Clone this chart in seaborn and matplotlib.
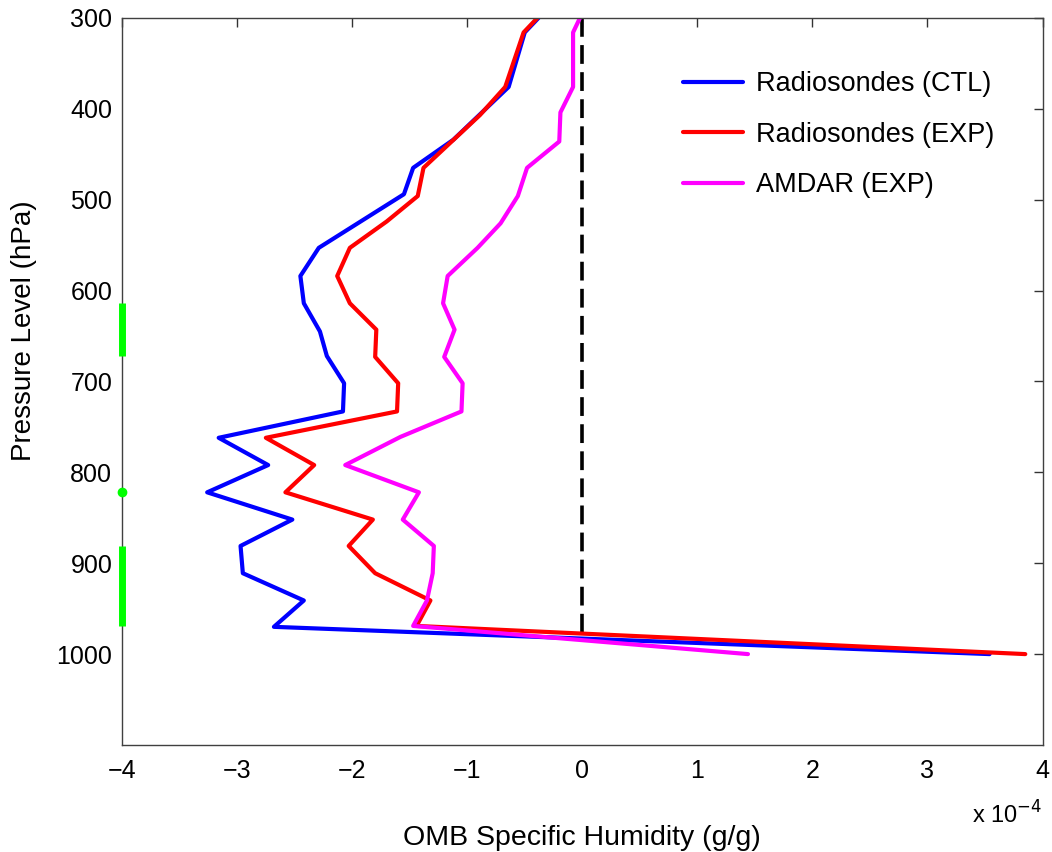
import numpy as np
import pandas as pd
import seaborn as sns
import matplotlib
matplotlib.use("Agg")
import matplotlib.pyplot as plt

# OMB specific humidity, in units of 1e-4 g/g
ctl_pressure = [300, 316, 376, 434, 465, 494, 553, 584, 614, 645, 672, 702, 733,
                762, 792, 822, 852, 881, 911, 941, 970, 1000]
ctl_omb = [-0.38, -0.50, -0.64, -1.12, -1.47, -1.55, -2.29, -2.45, -2.42, -2.28,
           -2.22, -2.07, -2.08, -3.16, -2.73, -3.26, -2.52, -2.97, -2.95, -2.42,
           -2.68, 3.54]

exp_pressure = [300, 316, 376, 407, 465, 496, 524, 553, 584, 614, 643, 673, 702,
                733, 762, 792, 822, 852, 881, 911, 941, 969, 1000]
exp_omb = [-0.39, -0.51, -0.67, -0.89, -1.38, -1.43, -1.70, -2.02, -2.13, -2.02,
           -1.79, -1.80, -1.60, -1.61, -2.75, -2.33, -2.58, -1.82, -2.03, -1.80,
           -1.32, -1.44, 3.85]

amdar_pressure = [300, 316, 376, 404, 436, 465, 496, 526, 553, 584, 614, 643, 673,
                  702, 733, 761, 792, 822, 852, 881, 911, 941, 969, 1000]
amdar_omb = [-0.02, -0.08, -0.08, -0.19, -0.20, -0.48, -0.56, -0.71, -0.91, -1.17,
             -1.21, -1.11, -1.20, -1.04, -1.05, -1.58, -2.06, -1.42, -1.56, -1.29,
             -1.30, -1.35, -1.47, 1.44]

# levels flagged in green on the left axis
sig_groups = [[614, 643, 672], [822], [881, 911, 941, 969]]

sns.set_style("white")
plt.rcParams['font.family'] = ['Liberation Sans', 'DejaVu Sans']
plt.rcParams['text.color'] = 'black'
plt.rcParams['axes.labelcolor'] = 'black'

fig = plt.figure(figsize=(10.52, 8.52), dpi=100)
ax = fig.add_axes([0.116, 0.1256, 0.875, 0.8534])

series = [
    ("Radiosondes (CTL)", ctl_omb, ctl_pressure, "#0000ff"),
    ("Radiosondes (EXP)", exp_omb, exp_pressure, "#ff0000"),
    ("AMDAR (EXP)", amdar_omb, amdar_pressure, "#ff00ff"),
]
for name, xs, ps, col in series:
    df = pd.DataFrame({"omb": xs, "p": ps})
    sns.lineplot(data=df, x="omb", y="p", sort=False, estimator=None,
                 color=col, linewidth=3, label=name, ax=ax)

ax.plot([0, 0], [300, 985], color="black", linewidth=2.6,
        linestyle=(0, (5.2, 2.3)), zorder=1)

for grp in sig_groups:
    ax.plot([-4] * len(grp), grp, color="#00ff00", linewidth=5,
            marker="o" if len(grp) == 1 else None, markersize=6,
            solid_capstyle="butt", clip_on=False, zorder=5)

ax.set_xlim(-4, 4)
ax.set_ylim(1100, 300)
ax.set_xticks(np.arange(-4, 5, 1))
ax.set_xticklabels(["\u22124", "\u22123", "\u22122", "\u22121", "0", "1", "2", "3", "4"])
ax.set_yticks(np.arange(300, 1001, 100))
ax.tick_params(direction="in", length=6.5, width=1, colors="#333333",
               labelcolor="black", labelsize=18, top=True, right=True)
ax.tick_params(axis="x", pad=10)
ax.tick_params(axis="y", pad=7)
for sp in ax.spines.values():
    sp.set_color("#404040")
    sp.set_linewidth(1)

ax.set_xlabel("OMB Specific Humidity (g/g)", fontsize=20.5, labelpad=30)
ax.set_ylabel("Pressure Level (hPa)", fontsize=20, labelpad=8)
ax.yaxis.set_label_coords(-0.092, 0.57)
ax.text(1.0, -0.096, "x 10$^{-4}$", transform=ax.transAxes, fontsize=17,
        ha="right", va="center")

ax.legend(loc="upper left", bbox_to_anchor=(0.583, 0.96), frameon=False,
          fontsize=19.5, handlelength=2.2, handletextpad=0.5, labelspacing=0.9)

fig.savefig("out.png", dpi=100)
